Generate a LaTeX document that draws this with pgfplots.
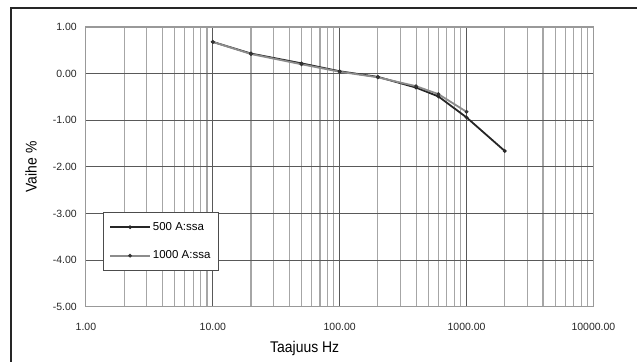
\documentclass[border=0pt]{standalone}
\usepackage{fontspec}
\setmainfont{Liberation Sans}
\newfontfamily\narrowfont[FakeStretch=0.9]{Liberation Sans}
\usepackage{pgfplots}
\pgfplotsset{compat=1.18}
\begin{document}
\begin{tikzpicture}
\begin{axis}[
 xmode=log, log basis x=10,
 scale only axis, width=508pt, height=280pt,
 xmin=1, xmax=10000, ymin=-5, ymax=1,
 xtick={1,10,100,1000,10000},
 xticklabels={1.00,10.00,100.00,1000.00,10000.00},
 ytick={-5,-4,-3,-2,-1,0,1},
 yticklabels={-5.00,-4.00,-3.00,-2.00,-1.00,0.00,1.00},
 minor xtick={2,3,4,5,6,7,8,9,20,30,40,50,60,70,80,90,200,300,400,500,600,700,800,900,2000,3000,4000,5000,6000,7000,8000,9000},
 grid=both,
 major grid style={black!65, line width=1.1pt},
 minor grid style={black!35, line width=1.1pt},
 axis line style={black!40, line width=1.1pt},
 major tick length=0pt, minor tick length=0pt,
 ticklabel style={font=\fontsize{10.5}{12}\selectfont, text=black!85},
 yticklabel style={inner sep=0pt, xshift=-9pt},
 xticklabel style={inner sep=0pt, yshift=-16pt},
 xlabel={Taajuus Hz}, ylabel={Vaihe \%},
 label style={font=\narrowfont\fontsize{15.5}{17}\selectfont},
 xlabel style={at={(axis description cs:0.431,-0.15)}, anchor=center},
 ylabel style={at={(axis description cs:-0.108,0.5)}, anchor=center},
 legend style={at={(rel axis cs:0.033,0.339)}, anchor=north west, draw=black!70, line width=1pt, fill=white,
   font=\fontsize{11.5}{13}\selectfont, row sep=15pt, inner xsep=6pt, inner ysep=8pt},
 legend cell align=left,
 legend image code/.code={\draw[#1,mark repeat=2,mark phase=2] plot coordinates {(0pt,0pt) (20pt,0pt) (40pt,0pt)};},
]
\addplot[black!85, line width=1.8pt, mark=*, mark size=0.8pt] coordinates {
 (10,0.68) (20,0.43) (50,0.22) (100,0.05) (200,-0.07) (400,-0.30) (600,-0.49) (1000,-0.94) (2000,-1.66)};
\addlegendentry{500 A:ssa}
\addplot[black!45, line width=1.8pt, mark=*, mark size=0.8pt, mark options={black!80}] coordinates {
 (10,0.68) (20,0.42) (50,0.20) (100,0.04) (200,-0.08) (400,-0.27) (600,-0.44) (1000,-0.82)};
\addlegendentry{1000 A:ssa}
\end{axis}
\draw[line width=1.2pt, black!85] (-75pt,-55pt) -- (-75pt,299pt) -- (552pt,299pt);
\path[use as bounding box] (-86pt,-55pt) rectangle (552pt,307pt);
\end{tikzpicture}
\end{document}
